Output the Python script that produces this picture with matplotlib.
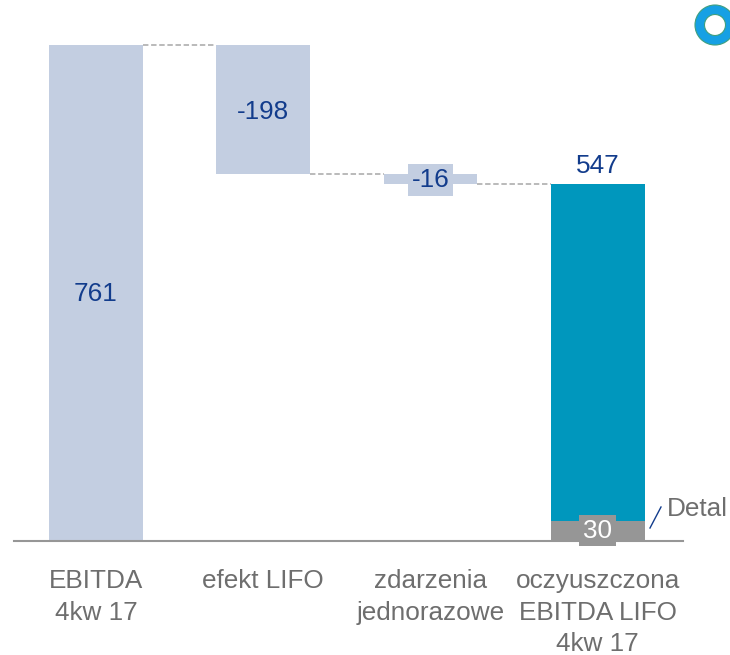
import matplotlib
matplotlib.use('Agg')
import matplotlib.pyplot as plt
from matplotlib.patches import Ellipse

plt.rcParams['font.family'] = ['Liberation Sans', 'DejaVu Sans']

W, H = 730, 655

categories = ['EBITDA\n4kw 17', 'efekt LIFO', 'zdarzenia\njednorazowe',
              'oczyuszczona\nEBITDA LIFO\n4kw 17']
bottoms = [0, 563, 547, 30]
heights = [761, 198, 16, 517]
labels = ['761', '-198', '-16', '547']
detail_value = 30
levels = [761, 563, 547]

light = '#c3cee1'
teal = '#0097bd'
grey = '#969696'
navy = '#123c8c'
txt = '#6e6e6e'
w = 0.56

fig = plt.figure(figsize=(W / 100, H / 100), dpi=100)
ax = fig.add_axes([14 / W, (H - 541) / H, (683 - 14) / W, 541 / H])
ax.set_xlim(-0.49, 3.51)
ax.set_ylim(0, 830)
ax.patch.set_alpha(0)

x = range(len(categories))
colors = [light, light, light, teal]
ax.bar(x, heights, bottom=bottoms, width=w, color=colors, linewidth=0)
ax.bar(3, detail_value, width=w, color=grey, linewidth=0)

# dashed connectors between bars
for i, lev in enumerate(levels):
    ax.plot([i + w / 2, i + 1 - w / 2], [lev, lev], color='#b4b4b4', lw=1.3,
            dashes=(3.0, 1.5), zorder=1)

fs = 18.8
ax.text(0, 379, labels[0], ha='center', va='center', fontsize=fs, color=navy)
ax.text(1, 658, labels[1], ha='center', va='center', fontsize=fs, color=navy)
ax.text(2, 554, labels[2], ha='center', va='center', fontsize=fs, color=navy,
        bbox=dict(facecolor=light, edgecolor='none', pad=2.8), zorder=3)
ax.text(3, 576, labels[3], ha='center', va='center', fontsize=fs, color=navy)
ax.text(3, 16, str(detail_value), ha='center', va='center', fontsize=fs, color='white',
        bbox=dict(facecolor=grey, edgecolor='none', pad=2.8), zorder=3)

for s in ['top', 'left', 'right']:
    ax.spines[s].set_visible(False)
ax.spines['bottom'].set_color('#969696')
ax.spines['bottom'].set_linewidth(1.5)
ax.set_yticks([])
ax.set_xticks(list(x))
ax.set_xticklabels(categories, fontsize=fs, color=txt, linespacing=1.37)
ax.tick_params(axis='x', length=0, pad=20.5)

# leader line and label of the grey part
fig.add_artist(plt.Line2D([650 / W, 661 / W], [(H - 528) / H, (H - 507) / H],
                          color=navy, lw=1))
fig.text(667 / W, (H - 509.5) / H, 'Detal', fontsize=fs, color=txt, ha='left', va='center')

# ring in the top right corner
ring_xy = (715 / W, (H - 25) / H)
fig.add_artist(Ellipse(ring_xy, 40 / W, 40 / H, facecolor='#16a0e4',
                       edgecolor='#3f9f7f', linewidth=0.8))
fig.add_artist(Ellipse(ring_xy, 21 / W, 21 / H, facecolor='white',
                       edgecolor='#3f9f7f', linewidth=0.8))

fig.savefig('out.png', dpi=100)
